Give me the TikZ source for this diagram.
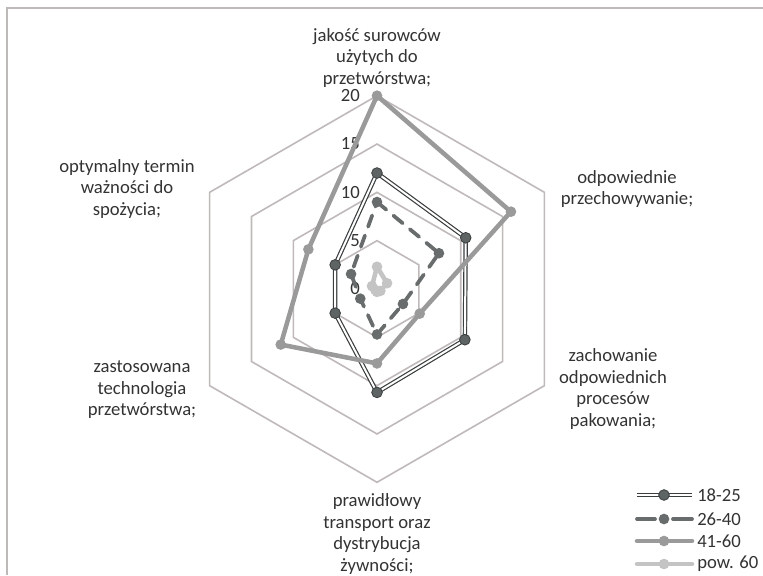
\documentclass[tikz,border=0pt]{standalone}
\usepackage{fontspec}
\setmainfont{Carlito}
\usetikzlibrary{calc}
\definecolor{txt}{HTML}{333333}
\definecolor{gridc}{HTML}{C0B9B9}
\definecolor{framec}{HTML}{BDB9B9}
\definecolor{sA}{HTML}{3A3E3E}
\definecolor{sAf}{HTML}{5E6464}
\definecolor{sB}{HTML}{686C6C}
\definecolor{sC}{HTML}{9A9A9A}
\definecolor{sD}{HTML}{C4C4C4}
\tikzset{
  lbl/.style={align=center, text=txt, font=\fontsize{14}{16.1}\selectfont, inner sep=0pt},
  tick/.style={anchor=east, text=txt, font=\fontsize{14}{16.1}\selectfont, inner sep=0pt},
  gridline/.style={draw=gridc, line width=1.2pt, line join=miter},
  lineA/.style={draw=sA, line width=0.9pt, double=white, double distance=1.5pt, line join=round},
  lineB/.style={draw=sB, line width=2.8pt, dash pattern=on 9pt off 7pt, line cap=round, line join=round},
  lineC/.style={draw=sC, line width=3.4pt, line cap=round, line join=round},
  lineD/.style={draw=sD, line width=3.4pt, line cap=round, line join=round},
  markA/.style={circle, inner sep=0pt, minimum size=8pt, fill=sAf, draw=sA, line width=0.6pt},
  markB/.style={circle, inner sep=0pt, minimum size=8pt, fill=sB},
  markC/.style={circle, inner sep=0pt, minimum size=8pt, fill=sC},
  markD/.style={circle, inner sep=0pt, minimum size=8pt, fill=sD},
}
\newcommand\mkseries[2]{%
  \foreach \val [count=\i] in {#2} {
    \pgfmathsetmacro\ang{90-60*(\i-1)}
    \coordinate (#1-\i) at ($(C)+(\ang:{\val*9.665})$);
  }}
\newcommand\drawseries[3]{%
  \draw[#2] (#1-1) -- (#1-2) -- (#1-3) -- (#1-4) -- (#1-5) -- (#1-6) -- cycle;
  \foreach \i in {1,...,6} { \node[#3] (#1-m\i) at (#1-\i) {}; }}
\begin{document}
\begin{tikzpicture}[x=0.75pt,y=0.75pt]
\useasboundingbox (0,0) rectangle (763,575);
% frame
\coordinate (f0) at (7,0);
\coordinate (f1) at (7,567);
\coordinate (f2) at (763,567);
\draw[framec, line width=1.5pt] (f0) -- (f1) -- (f2);
\coordinate (C) at (377,286);
% grid
\foreach \v in {5,10,15,20} {
  \pgfmathsetmacro\rr{\v*9.665}
  \draw[gridline] ($(C)+(90:\rr)$) -- ($(C)+(30:\rr)$) -- ($(C)+(-30:\rr)$) -- ($(C)+(-90:\rr)$) -- ($(C)+(-150:\rr)$) -- ($(C)+(150:\rr)$) -- cycle;
}
% tick labels
\foreach \v in {0,5,10,15,20} {
  \node[tick] (t\v) at ($(C)+(-17,{\v*9.665})$) {\v};
}
% axis labels
\node[lbl] (L1) at (377,517) {jakość surowców\\użytych do\\przetwórstwa;};
\node[lbl] (L2) at (627,386) {odpowiednie\\przechowywanie;};
\node[lbl] (L3) at (613,186) {zachowanie\\odpowiednich\\procesów\\pakowania;};
\node[lbl] (L4) at (377,41) {prawidłowy\\transport oraz\\dystrybucja\\żywności;};
\node[lbl] (L5) at (142,185) {zastosowana\\technologia\\przetwórstwa;};
\node[lbl] (L6) at (127,386) {optymalny termin\\ważności do\\spożycia;};
% series
\mkseries{a}{12,10.6,10.5,10.7,5,5}
\mkseries{b}{9,7.4,3.1,4.7,2,3.1}
\mkseries{c}{20,16,5.1,7.7,11.5,8.2}
\mkseries{d}{2.3,1.2,0.4,0.3,0.2,0.6}
\drawseries{a}{lineA}{markA}
\drawseries{b}{lineB}{markB}
\drawseries{c}{lineC}{markC}
\drawseries{d}{lineD}{markD}
% legend
\foreach \n/\y/\t in {1/80/18-25, 2/56/26-40, 3/34/41-60, 4/11/pow. 60} {
  \coordinate (g\n a) at (637,\y);
  \coordinate (g\n m) at (664,\y);
  \coordinate (g\n b) at (692,\y);
  \node[lbl, anchor=west] (g\n t) at (697,\y) {\t};
}
\draw[lineA] (g1a) -- (g1b);
\node[markA] (g1k) at (g1m) {};
\draw[sB, line width=2.8pt, line cap=round] (g2a) -- ($(g2m)+(-9,0)$);
\draw[sB, line width=2.8pt, line cap=round] ($(g2m)+(9,0)$) -- (g2b);
\node[markB] (g2k) at (g2m) {};
\draw[lineC] (g3a) -- (g3b);
\node[markC] (g3k) at (g3m) {};
\draw[lineD] (g4a) -- (g4b);
\node[markD] (g4k) at (g4m) {};
\end{tikzpicture}
\end{document}
